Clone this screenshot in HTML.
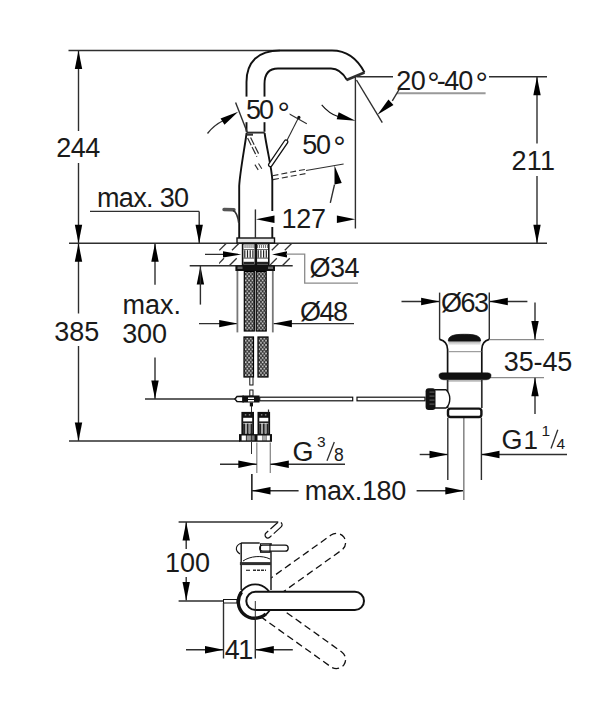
<!DOCTYPE html>
<html><head><meta charset="utf-8"><style>
html,body{margin:0;padding:0;background:#fff;}
svg{display:block;}
text{font-family:"Liberation Sans",sans-serif;stroke:none;}
</style></head><body>
<svg width="604" height="711" viewBox="0 0 604 711">
<rect width="604" height="711" fill="#fff"/>
<line x1="68.5" y1="50.5" x2="280" y2="50.5" stroke="#2e2e2e" stroke-width="1.4" />
<line x1="78.5" y1="50.5" x2="78.5" y2="131" stroke="#2e2e2e" stroke-width="1.4" />
<line x1="78.5" y1="163" x2="78.5" y2="243.2" stroke="#2e2e2e" stroke-width="1.4" />
<polygon points="78.50,50.50 82.20,69.00 74.80,69.00" fill="#000"/>
<polygon points="78.50,243.20 74.80,224.70 82.20,224.70" fill="#000"/>
<text x="56.3" y="156.5" font-size="27" text-anchor="start" fill="#1a1a1a" textLength="44" lengthAdjust="spacing" >244</text>
<line x1="69" y1="243.2" x2="547" y2="243.2" stroke="#2e2e2e" stroke-width="1.4" />
<text x="97" y="206.5" font-size="27" text-anchor="start" fill="#1a1a1a" textLength="92" lengthAdjust="spacing" >max. 30</text>
<line x1="90" y1="211.4" x2="199.2" y2="211.4" stroke="#2e2e2e" stroke-width="1.4" />
<line x1="199.2" y1="211.4" x2="199.2" y2="243.2" stroke="#2e2e2e" stroke-width="1.4" />
<polygon points="199.20,243.20 195.50,224.70 202.90,224.70" fill="#000"/>
<line x1="155" y1="243.2" x2="155" y2="284.7" stroke="#2e2e2e" stroke-width="1.4" />
<polygon points="155.00,243.20 158.70,261.70 151.30,261.70" fill="#000"/>
<line x1="155" y1="357.5" x2="155" y2="399" stroke="#2e2e2e" stroke-width="1.4" />
<polygon points="155.00,399.00 151.30,380.50 158.70,380.50" fill="#000"/>
<text x="122.5" y="313.8" font-size="27" text-anchor="start" fill="#1a1a1a" textLength="58.5" lengthAdjust="spacing" >max.</text>
<text x="122.2" y="342.8" font-size="27" text-anchor="start" fill="#1a1a1a" textLength="44.8" lengthAdjust="spacing" >300</text>
<line x1="78.5" y1="243.2" x2="78.5" y2="313.5" stroke="#2e2e2e" stroke-width="1.4" />
<line x1="78.5" y1="346" x2="78.5" y2="441" stroke="#2e2e2e" stroke-width="1.4" />
<polygon points="78.50,243.20 82.20,261.70 74.80,261.70" fill="#000"/>
<polygon points="78.50,441.00 74.80,422.50 82.20,422.50" fill="#000"/>
<text x="54.3" y="340.8" font-size="27" text-anchor="start" fill="#1a1a1a" textLength="45" lengthAdjust="spacing" >385</text>
<line x1="69" y1="441" x2="240" y2="441" stroke="#2e2e2e" stroke-width="1.4" />
<line x1="145" y1="399" x2="236" y2="399" stroke="#2e2e2e" stroke-width="1.4" />
<line x1="189.7" y1="265.8" x2="292.7" y2="265.8" stroke="#2e2e2e" stroke-width="1.4" />
<polygon points="200.40,266.00 204.10,284.50 196.70,284.50" fill="#000"/>
<line x1="200.4" y1="266" x2="200.4" y2="304.6" stroke="#2e2e2e" stroke-width="1.4" />
<line x1="199" y1="323.6" x2="237.7" y2="323.6" stroke="#2e2e2e" stroke-width="1.4" />
<polygon points="237.70,323.60 219.20,327.30 219.20,319.90" fill="#000"/>
<line x1="273.4" y1="323.6" x2="354" y2="323.6" stroke="#2e2e2e" stroke-width="1.4" />
<polygon points="273.40,323.60 291.90,319.90 291.90,327.30" fill="#000"/>
<text x="300" y="320.5" font-size="27" text-anchor="start" fill="#1a1a1a" textLength="48" lengthAdjust="spacing" >Ø48</text>
<line x1="237.4" y1="271" x2="237.4" y2="332.4" stroke="#777" stroke-width="1.8" />
<line x1="272.8" y1="271" x2="272.8" y2="332.4" stroke="#777" stroke-width="1.8" />
<line x1="205" y1="254.4" x2="238" y2="254.4" stroke="#2e2e2e" stroke-width="1.4" />
<polygon points="241.30,254.40 223.00,257.60 223.00,251.20" fill="#000"/>
<polygon points="272.00,254.40 287.00,251.20 287.00,257.60" fill="#000"/>
<polyline points="286,254.2 304.7,254.2 304.7,283.2 358,283.2" stroke="#8a8a8a" stroke-width="1.3" fill="none" />
<text x="309.5" y="277.3" font-size="27" text-anchor="start" fill="#1a1a1a" textLength="50" lengthAdjust="spacing" >Ø34</text>
<path d="M246.5,131.7 L246.5,82 C246.5,62 258,50.5 280,50.5 L332,50.5 C348,50.5 358,60 364.5,72.5" stroke="#111" stroke-width="1.9" fill="none" />
<path d="M264.5,131.7 L264.5,84 C264.5,74 269,68.5 278,68.5 L331,68.5 C338,68.5 343,73 347,80" stroke="#111" stroke-width="1.9" fill="none" />
<line x1="346.5" y1="80" x2="364.5" y2="72.5" stroke="#2e2e2e" stroke-width="2.6" />
<line x1="246.5" y1="132.6" x2="264.8" y2="132.6" stroke="#2e2e2e" stroke-width="1.9" />
<path d="M246.6,133 C244.6,148 240,172 239.2,186 L239.2,238" stroke="#111" stroke-width="1.9" fill="none" />
<path d="M264.6,133 C267,150 271.8,168 272.3,180 L272.3,238" stroke="#111" stroke-width="1.9" fill="none" />
<rect x="237" y="238" width="37.5" height="5" fill="#e6e6e6" stroke="#111" stroke-width="1.4"/>
<path d="M224,209.5 L234,209.8" stroke="#555" stroke-width="3.4" fill="none" stroke-linecap="round"/>
<path d="M233,210.5 C236.5,212 238,217 238.8,223" stroke="#333" stroke-width="1.7" fill="none" />
<g transform="translate(269.3,166.3) rotate(-55.7)"><rect x="0" y="-1.8" width="31.5" height="3.6" rx="1.8" fill="#fff" stroke="#111" stroke-width="1.3"/></g>
<line x1="286.8" y1="140.8" x2="299" y2="116.8" stroke="#2e2e2e" stroke-width="1.1" />
<line x1="289" y1="113.8" x2="306.8" y2="123.7" stroke="#2e2e2e" stroke-width="1.1" />
<circle cx="298.9" cy="117.4" r="1.6" fill="#111"/>
<line x1="247.6" y1="138" x2="256.9" y2="156.7" stroke="#2e2e2e" stroke-width="1.2" stroke-dasharray="8 2"/>
<line x1="250.6" y1="137.5" x2="259.5" y2="155.5" stroke="#2e2e2e" stroke-width="1.2" stroke-dasharray="8 2"/>
<line x1="254.9" y1="164.6" x2="258.2" y2="169.9" stroke="#2e2e2e" stroke-width="1.1" />
<line x1="258.5" y1="163.5" x2="261.8" y2="168.8" stroke="#2e2e2e" stroke-width="1.1" />
<rect x="246.5" y="133.5" width="6.5" height="2.2" fill="#333" stroke="none" stroke-width="1"/>
<line x1="272.5" y1="175.8" x2="306" y2="169.2" stroke="#2e2e2e" stroke-width="1.1" stroke-dasharray="6 3"/>
<line x1="273" y1="179.6" x2="306.5" y2="173.4" stroke="#2e2e2e" stroke-width="1.1" stroke-dasharray="6 3"/>
<line x1="306" y1="170.5" x2="343.6" y2="164" stroke="#2e2e2e" stroke-width="1.1" />
<line x1="235.6" y1="102.5" x2="247.2" y2="132.3" stroke="#2e2e2e" stroke-width="1.4" />
<path d="M207.5,133.5 Q214,125 223.5,120.5" stroke="#2e2e2e" stroke-width="1.3" fill="none" />
<polygon points="238.20,111.80 224.47,124.74 220.55,118.47" fill="#000"/>
<rect x="244.6" y="96.6" width="45" height="25.6" fill="#fff" stroke="none" stroke-width="1"/>
<text x="246" y="119.3" font-size="27" text-anchor="start" fill="#1a1a1a" textLength="28" lengthAdjust="spacing" >50</text>
<text x="277.5" y="123.8" font-size="31" text-anchor="start" fill="#1a1a1a" >°</text>
<line x1="330.3" y1="202.8" x2="334.5" y2="184.6" stroke="#2e2e2e" stroke-width="1.4" />
<polygon points="334.50,165.60 341.76,183.02 334.50,184.47" fill="#000"/>
<text x="302.3" y="154" font-size="27" text-anchor="start" fill="#1a1a1a" textLength="28.8" lengthAdjust="spacing" >50</text>
<text x="333.3" y="157.8" font-size="31" text-anchor="start" fill="#1a1a1a" >°</text>
<line x1="255.4" y1="209.4" x2="255.4" y2="238" stroke="#2e2e2e" stroke-width="1.4" />
<rect x="270" y="211" width="5" height="16" fill="#fff" stroke="none" stroke-width="1"/>
<line x1="272.3" y1="211" x2="272.3" y2="227" stroke="#2e2e2e" stroke-width="0" />
<polygon points="256.00,219.30 274.50,215.60 274.50,223.00" fill="#000"/>
<polygon points="355.40,219.30 336.90,223.00 336.90,215.60" fill="#000"/>
<text x="281.5" y="227.9" font-size="27" text-anchor="start" fill="#1a1a1a" textLength="44.5" lengthAdjust="spacing" >127</text>
<line x1="355.4" y1="77" x2="355.4" y2="228.5" stroke="#2e2e2e" stroke-width="1.4" />
<path d="M321.7,104.8 C326,110 332,114.5 338,116.5" stroke="#111" stroke-width="1.1" fill="none" />
<polygon points="355.50,120.70 336.69,119.27 338.68,112.15" fill="#000"/>
<line x1="357" y1="76.7" x2="393" y2="76.7" stroke="#2e2e2e" stroke-width="1.4" />
<line x1="489" y1="76.7" x2="547" y2="76.7" stroke="#2e2e2e" stroke-width="1.4" />
<text x="396.2" y="89.6" font-size="27" text-anchor="start" fill="#1a1a1a" textLength="29.7" lengthAdjust="spacing" >20</text>
<text x="427.2" y="94.3" font-size="31" text-anchor="start" fill="#1a1a1a" >°</text>
<text x="436.8" y="89.6" font-size="27" text-anchor="start" fill="#1a1a1a" >-</text>
<text x="444.2" y="89.6" font-size="27" text-anchor="start" fill="#1a1a1a" textLength="29" lengthAdjust="spacing" >40</text>
<text x="475.6" y="94.3" font-size="31" text-anchor="start" fill="#1a1a1a" >°</text>
<line x1="397" y1="93.2" x2="485.6" y2="93.2" stroke="#999" stroke-width="2" />
<line x1="356.5" y1="80" x2="382.3" y2="122.7" stroke="#2e2e2e" stroke-width="1.4" />
<line x1="400" y1="88" x2="392.3" y2="100.9" stroke="#2e2e2e" stroke-width="1.4" />
<polygon points="377.40,114.80 388.43,99.49 393.47,104.91" fill="#000"/>
<line x1="537" y1="76.7" x2="537" y2="143.5" stroke="#2e2e2e" stroke-width="1.4" />
<line x1="537" y1="176" x2="537" y2="243.2" stroke="#2e2e2e" stroke-width="1.4" />
<polygon points="537.00,76.70 540.70,95.20 533.30,95.20" fill="#000"/>
<polygon points="537.00,243.20 533.30,224.70 540.70,224.70" fill="#000"/>
<text x="511.6" y="170.2" font-size="27" text-anchor="start" fill="#1a1a1a" textLength="43.5" lengthAdjust="spacing" >211</text>
<defs><pattern id="hatch" patternUnits="userSpaceOnUse" width="9" height="23" patternTransform="translate(0,242.4)"><line x1="0" y1="23" x2="9" y2="11.5" stroke="#222" stroke-width="1.1" stroke-dasharray="6 3"/><line x1="9" y1="11.5" x2="18" y2="0" stroke="#222" stroke-width="1.1"/></pattern><pattern id="braid" patternUnits="userSpaceOnUse" width="3.4" height="4.3"><rect width="3.4" height="4.3" fill="#333"/><circle cx="0.85" cy="1" r="0.95" fill="#ccc"/><circle cx="2.55" cy="3.15" r="0.95" fill="#bbb"/></pattern></defs>
<clipPath id="c219"><rect x="219" y="243" width="23.19999999999999" height="23.5"/></clipPath>
<g clip-path="url(#c219)"><line x1="203.8" y1="265.8" x2="211.3" y2="258.3" stroke="#333" stroke-width="1.3"/><line x1="219.3" y1="250.3" x2="226.1" y2="243.5" stroke="#333" stroke-width="1.3"/><line x1="216.5" y1="265.8" x2="224.0" y2="258.3" stroke="#333" stroke-width="1.3"/><line x1="232.0" y1="250.3" x2="238.8" y2="243.5" stroke="#333" stroke-width="1.3"/><line x1="229.2" y1="265.8" x2="236.7" y2="258.3" stroke="#333" stroke-width="1.3"/><line x1="244.7" y1="250.3" x2="251.5" y2="243.5" stroke="#333" stroke-width="1.3"/></g>
<clipPath id="c269"><rect x="269.6" y="243" width="23.399999999999977" height="23.5"/></clipPath>
<g clip-path="url(#c269)"><line x1="256.3" y1="265.8" x2="263.8" y2="258.3" stroke="#333" stroke-width="1.3"/><line x1="271.8" y1="250.3" x2="278.6" y2="243.5" stroke="#333" stroke-width="1.3"/><line x1="269.3" y1="265.8" x2="276.8" y2="258.3" stroke="#333" stroke-width="1.3"/><line x1="284.8" y1="250.3" x2="291.6" y2="243.5" stroke="#333" stroke-width="1.3"/><line x1="282.3" y1="265.8" x2="289.8" y2="258.3" stroke="#333" stroke-width="1.3"/><line x1="297.8" y1="250.3" x2="304.6" y2="243.5" stroke="#333" stroke-width="1.3"/></g>
<rect x="242.6" y="243.6" width="26.2" height="21.6" fill="#fff" stroke="#111" stroke-width="1.6"/>
<rect x="244.5" y="245" width="1.1" height="3" fill="#777" stroke="none" stroke-width="1"/>
<rect x="246.5" y="245" width="1.1" height="3" fill="#777" stroke="none" stroke-width="1"/>
<rect x="248.5" y="245" width="1.1" height="3" fill="#777" stroke="none" stroke-width="1"/>
<rect x="250.5" y="245" width="1.1" height="3" fill="#777" stroke="none" stroke-width="1"/>
<rect x="252.5" y="245" width="1.1" height="3" fill="#777" stroke="none" stroke-width="1"/>
<rect x="254.5" y="245" width="1.1" height="3" fill="#777" stroke="none" stroke-width="1"/>
<rect x="257" y="245" width="1.1" height="3" fill="#777" stroke="none" stroke-width="1"/>
<rect x="259" y="245" width="1.1" height="3" fill="#777" stroke="none" stroke-width="1"/>
<rect x="261" y="245" width="1.1" height="3" fill="#777" stroke="none" stroke-width="1"/>
<rect x="263" y="245" width="1.1" height="3" fill="#777" stroke="none" stroke-width="1"/>
<rect x="265" y="245" width="1.1" height="3" fill="#777" stroke="none" stroke-width="1"/>
<rect x="267" y="245" width="1.1" height="3" fill="#777" stroke="none" stroke-width="1"/>
<rect x="254.5" y="244" width="2.6" height="21" fill="#111" stroke="none" stroke-width="1"/>
<rect x="243.4" y="249.2" width="11" height="0.8" fill="#444" stroke="none" stroke-width="1"/>
<rect x="257" y="249.2" width="11" height="0.8" fill="#444" stroke="none" stroke-width="1"/>
<rect x="244.2" y="250.2" width="1.2" height="7.5" fill="#222" stroke="none" stroke-width="1"/>
<rect x="246.9" y="250.2" width="1.2" height="7.5" fill="#222" stroke="none" stroke-width="1"/>
<rect x="249.6" y="250.2" width="1.2" height="7.5" fill="#222" stroke="none" stroke-width="1"/>
<rect x="252.3" y="250.2" width="1.2" height="7.5" fill="#222" stroke="none" stroke-width="1"/>
<rect x="257.6" y="250.2" width="1.2" height="7.5" fill="#222" stroke="none" stroke-width="1"/>
<rect x="260.3" y="250.2" width="1.2" height="7.5" fill="#222" stroke="none" stroke-width="1"/>
<rect x="263" y="250.2" width="1.2" height="7.5" fill="#222" stroke="none" stroke-width="1"/>
<rect x="265.7" y="250.2" width="1.2" height="7.5" fill="#222" stroke="none" stroke-width="1"/>
<rect x="243.4" y="257.7" width="11" height="0.8" fill="#222" stroke="none" stroke-width="1"/>
<rect x="257" y="257.7" width="11" height="0.8" fill="#222" stroke="none" stroke-width="1"/>
<rect x="243.4" y="261.8" width="11" height="2.5" fill="#222" stroke="none" stroke-width="1"/>
<rect x="257" y="261.8" width="11" height="2.5" fill="#222" stroke="none" stroke-width="1"/>
<rect x="235.4" y="265.4" width="39.6" height="5.6" fill="#111" stroke="none" stroke-width="1"/>
<rect x="237.5" y="266.6" width="5" height="2.4" fill="#666" stroke="none" stroke-width="1"/>
<rect x="268" y="266.6" width="5" height="2.4" fill="#666" stroke="none" stroke-width="1"/>
<rect x="244.3" y="271.4" width="10" height="59.6" fill="url(#braid)" stroke="#000" stroke-width="1.2"/>
<rect x="256.2" y="271.4" width="10" height="59.6" fill="url(#braid)" stroke="#000" stroke-width="1.2"/>
<rect x="244" y="337" width="9.5" height="40" fill="url(#braid)" stroke="#000" stroke-width="1.2"/>
<rect x="258" y="337" width="10" height="40" fill="url(#braid)" stroke="#000" stroke-width="1.2"/>
<rect x="249.8" y="377" width="3.2" height="8" fill="#fff" stroke="#111" stroke-width="1"/>
<rect x="249.8" y="390" width="3.2" height="6" fill="#fff" stroke="#111" stroke-width="1"/>
<path d="M235,399 L237,396.6 L243,396.2 L243,401.8 L237,401.4 Z" fill="#fff" stroke="#111" stroke-width="1.5"/>
<rect x="242.5" y="395.5" width="17" height="7" fill="#111" stroke="none" stroke-width="1"/>
<rect x="248" y="397.5" width="6" height="1.5" fill="#fff" stroke="none" stroke-width="1"/>
<rect x="248" y="400" width="6" height="1.5" fill="#fff" stroke="none" stroke-width="1"/>
<rect x="249.8" y="402.4" width="3.2" height="4" fill="#111" stroke="none" stroke-width="1"/>
<rect x="259.7" y="397.2" width="93" height="3.6" fill="#fff" stroke="#111" stroke-width="1.2"/>
<rect x="357" y="397.2" width="68" height="3.6" fill="#fff" stroke="#111" stroke-width="1.2"/>
<rect x="242.3" y="412.8" width="10.8" height="21.5" fill="#fff" stroke="#111" stroke-width="1.8"/>
<rect x="242.3" y="412.6" width="10.8" height="5.2" fill="#111" stroke="none" stroke-width="1"/>
<rect x="244.8" y="414" width="1.5" height="1.6" fill="#777" stroke="none" stroke-width="1"/>
<rect x="248.8" y="414" width="1.5" height="1.6" fill="#777" stroke="none" stroke-width="1"/>
<rect x="243.8" y="418.4" width="7.8" height="2.8" fill="#fff" stroke="none" stroke-width="1"/>
<rect x="242.3" y="421.4" width="10.8" height="1.6" fill="#222" stroke="none" stroke-width="1"/>
<rect x="243.10000000000002" y="423.5" width="2" height="10.5" fill="#222" stroke="none" stroke-width="1"/>
<rect x="246.70000000000002" y="423.5" width="2" height="10.5" fill="#222" stroke="none" stroke-width="1"/>
<rect x="250.3" y="423.5" width="2" height="10.5" fill="#222" stroke="none" stroke-width="1"/>
<rect x="245.10000000000002" y="423.5" width="1.6" height="10.5" fill="#999" stroke="none" stroke-width="1"/>
<rect x="248.70000000000002" y="423.5" width="1.6" height="10.5" fill="#999" stroke="none" stroke-width="1"/>
<rect x="258.4" y="412.8" width="10.8" height="21.5" fill="#fff" stroke="#111" stroke-width="1.8"/>
<rect x="258.4" y="412.6" width="10.8" height="5.2" fill="#111" stroke="none" stroke-width="1"/>
<rect x="260.9" y="414" width="1.5" height="1.6" fill="#777" stroke="none" stroke-width="1"/>
<rect x="264.9" y="414" width="1.5" height="1.6" fill="#777" stroke="none" stroke-width="1"/>
<rect x="259.9" y="418.4" width="7.8" height="2.8" fill="#fff" stroke="none" stroke-width="1"/>
<rect x="258.4" y="421.4" width="10.8" height="1.6" fill="#222" stroke="none" stroke-width="1"/>
<rect x="259.2" y="423.5" width="2" height="10.5" fill="#222" stroke="none" stroke-width="1"/>
<rect x="262.79999999999995" y="423.5" width="2" height="10.5" fill="#222" stroke="none" stroke-width="1"/>
<rect x="266.4" y="423.5" width="2" height="10.5" fill="#222" stroke="none" stroke-width="1"/>
<rect x="261.2" y="423.5" width="1.6" height="10.5" fill="#999" stroke="none" stroke-width="1"/>
<rect x="264.79999999999995" y="423.5" width="1.6" height="10.5" fill="#999" stroke="none" stroke-width="1"/>
<line x1="268.5" y1="412.5" x2="268.5" y2="409.5" stroke="#2e2e2e" stroke-width="1.2" />
<rect x="239" y="434.1" width="33" height="7.7" fill="#111" stroke="none" stroke-width="1"/>
<rect x="241.6" y="435.5" width="4.3" height="4.9" fill="#fff" stroke="none" stroke-width="1"/>
<rect x="246.6" y="435.5" width="4.3" height="4.9" fill="#999" stroke="none" stroke-width="1"/>
<rect x="251.6" y="435.5" width="3" height="4.9" fill="#777" stroke="none" stroke-width="1"/>
<rect x="257.5" y="435.5" width="4.6" height="4.9" fill="#fff" stroke="none" stroke-width="1"/>
<rect x="262.2" y="435.5" width="4.6" height="4.9" fill="#aaa" stroke="none" stroke-width="1"/>
<rect x="266.9" y="435.5" width="3" height="4.9" fill="#fff" stroke="none" stroke-width="1"/>
<line x1="251.5" y1="406" x2="251.5" y2="412" stroke="#2e2e2e" stroke-width="1" />
<line x1="251.5" y1="442" x2="251.5" y2="454" stroke="#2e2e2e" stroke-width="1" />
<line x1="251.5" y1="474" x2="251.5" y2="500" stroke="#2e2e2e" stroke-width="1" />
<line x1="256.8" y1="442.5" x2="256.8" y2="473" stroke="#8a8a8a" stroke-width="1.3" />
<line x1="270.3" y1="442.5" x2="270.3" y2="473" stroke="#8a8a8a" stroke-width="1.3" />
<line x1="220" y1="464.2" x2="256.8" y2="464.2" stroke="#2e2e2e" stroke-width="1.4" />
<polygon points="256.80,464.20 238.30,467.90 238.30,460.50" fill="#000"/>
<line x1="270.3" y1="464.2" x2="345" y2="464.2" stroke="#2e2e2e" stroke-width="1.4" />
<polygon points="270.30,464.20 288.80,460.50 288.80,467.90" fill="#000"/>
<text x="292.5" y="461.4" font-size="27" text-anchor="start" fill="#1a1a1a" >G</text>
<text x="317" y="446.9" font-size="15.5" text-anchor="start" fill="#1a1a1a" >3</text>
<line x1="327" y1="460.8" x2="334.3" y2="442" stroke="#2e2e2e" stroke-width="1.3" />
<text x="334" y="461.4" font-size="17.5" text-anchor="start" fill="#1a1a1a" >8</text>
<line x1="252" y1="474" x2="252" y2="500" stroke="#2e2e2e" stroke-width="1.4" />
<line x1="252" y1="490.7" x2="298.6" y2="490.7" stroke="#2e2e2e" stroke-width="1.4" />
<polygon points="252.00,490.70 270.50,487.00 270.50,494.40" fill="#000"/>
<text x="304.8" y="500" font-size="27" text-anchor="start" fill="#1a1a1a" textLength="101.5" lengthAdjust="spacing" >max.180</text>
<line x1="416.6" y1="490.7" x2="463.8" y2="490.7" stroke="#2e2e2e" stroke-width="1.4" />
<polygon points="463.80,490.70 445.30,494.40 445.30,487.00" fill="#000"/>
<line x1="463.8" y1="417.7" x2="463.8" y2="500" stroke="#8a8a8a" stroke-width="1.6" />
<line x1="401.5" y1="301.5" x2="439.6" y2="301.5" stroke="#2e2e2e" stroke-width="1.4" />
<polygon points="439.60,301.50 421.10,305.20 421.10,297.80" fill="#000"/>
<line x1="489.3" y1="301.5" x2="527.4" y2="301.5" stroke="#2e2e2e" stroke-width="1.4" />
<polygon points="489.30,301.50 507.80,297.80 507.80,305.20" fill="#000"/>
<line x1="439.6" y1="292.6" x2="439.6" y2="339.6" stroke="#2e2e2e" stroke-width="1.4" />
<line x1="489.3" y1="292.6" x2="489.3" y2="339.6" stroke="#2e2e2e" stroke-width="1.4" />
<rect x="441" y="292" width="47" height="21" fill="#fff" stroke="none" stroke-width="1"/>
<text x="441" y="311.6" font-size="27" text-anchor="start" fill="#1a1a1a" textLength="48" lengthAdjust="spacing" >Ø63</text>
<line x1="490" y1="339.6" x2="544" y2="339.6" stroke="#8a8a8a" stroke-width="1.2" />
<line x1="486" y1="377.7" x2="544" y2="377.7" stroke="#8a8a8a" stroke-width="1.2" />
<line x1="535" y1="302.5" x2="535" y2="339.6" stroke="#2e2e2e" stroke-width="1.4" />
<polygon points="535.00,339.60 531.30,321.10 538.70,321.10" fill="#000"/>
<line x1="535" y1="377.7" x2="535" y2="414" stroke="#2e2e2e" stroke-width="1.4" />
<polygon points="535.00,377.70 538.70,396.20 531.30,396.20" fill="#000"/>
<text x="503.8" y="371" font-size="27" text-anchor="start" fill="#1a1a1a" textLength="68.5" lengthAdjust="spacing" >35-45</text>
<path d="M439.6,339.4 C444,340.5 447.6,343 447.6,349.5 L447.6,373.5" stroke="#111" stroke-width="1.7" fill="none" />
<path d="M489.3,339.4 C485,340.5 481.8,343 481.8,349.5 L481.8,373.5" stroke="#111" stroke-width="1.7" fill="none" />
<defs><linearGradient id="capg" x1="0" y1="0" x2="0" y2="1"><stop offset="0" stop-color="#999"/><stop offset="1" stop-color="#fff"/></linearGradient></defs>
<rect x="448.5" y="340.5" width="32" height="5" fill="url(#capg)" stroke="none" stroke-width="1"/>
<path d="M448.3,341 C448.3,336 453,334.3 464.4,334.3 C476,334.3 480.6,336 480.6,341 Z" stroke="#111" stroke-width="0.8" fill="#111" />
<line x1="448" y1="351.7" x2="481.5" y2="351.7" stroke="#888" stroke-width="1" />
<path d="M439,375.5 C439,373 441,372.8 445,372.8 L485,372.8 C489,372.8 491,373 491,375.5 C491,378.5 489,379.8 485,379.8 L445,379.8 C441,379.8 439,378.5 439,375.5 Z" stroke="#111" stroke-width="0.5" fill="#111" />
<line x1="448" y1="381" x2="481.5" y2="381" stroke="#999" stroke-width="1" />
<line x1="447.6" y1="379.8" x2="447.6" y2="408" stroke="#2e2e2e" stroke-width="1.7" />
<line x1="481.8" y1="379.8" x2="481.8" y2="408" stroke="#2e2e2e" stroke-width="1.7" />
<rect x="448" y="408.6" width="33.4" height="8.4" rx="2.5" fill="#fff" stroke="#111" stroke-width="2.4"/>
<path d="M435,389.8 L446,389.8 C448.5,392 449.8,395 449.8,398.8 C449.8,403 448.5,406 446,408 L435,408" stroke="#111" stroke-width="1.4" fill="#fff" />
<rect x="425.6" y="388.3" width="9.9" height="21.8" rx="3" fill="#111"/>
<rect x="429.5" y="391.5" width="5" height="1.2" fill="#555" stroke="none" stroke-width="1"/>
<rect x="429.5" y="395.5" width="5" height="1.2" fill="#555" stroke="none" stroke-width="1"/>
<rect x="429.5" y="399.5" width="5" height="1.2" fill="#555" stroke="none" stroke-width="1"/>
<rect x="429.5" y="403.5" width="5" height="1.2" fill="#555" stroke="none" stroke-width="1"/>
<line x1="447.8" y1="417.7" x2="447.8" y2="480" stroke="#2e2e2e" stroke-width="1.4" />
<line x1="481.4" y1="417.7" x2="481.4" y2="480" stroke="#2e2e2e" stroke-width="1.4" />
<line x1="419.7" y1="454.5" x2="448" y2="454.5" stroke="#2e2e2e" stroke-width="1.4" />
<polygon points="448.00,454.50 429.50,458.20 429.50,450.80" fill="#000"/>
<line x1="481" y1="454.5" x2="567" y2="454.5" stroke="#2e2e2e" stroke-width="1.4" />
<polygon points="481.00,454.50 499.50,450.80 499.50,458.20" fill="#000"/>
<text x="501.5" y="449.3" font-size="27" text-anchor="start" fill="#1a1a1a" >G</text>
<text x="523.5" y="449.3" font-size="26" text-anchor="start" fill="#1a1a1a" >1</text>
<text x="541.5" y="436.3" font-size="15.5" text-anchor="start" fill="#1a1a1a" >1</text>
<line x1="551" y1="448.5" x2="557.8" y2="429.8" stroke="#2e2e2e" stroke-width="1.3" />
<text x="556.5" y="448.8" font-size="15.5" text-anchor="start" fill="#1a1a1a" >4</text>
<line x1="178.6" y1="522" x2="278.3" y2="522" stroke="#2e2e2e" stroke-width="1.4" />
<line x1="186.2" y1="522" x2="186.2" y2="549" stroke="#2e2e2e" stroke-width="1.4" />
<line x1="186.2" y1="577" x2="186.2" y2="600.6" stroke="#2e2e2e" stroke-width="1.4" />
<polygon points="186.20,522.00 189.90,540.50 182.50,540.50" fill="#000"/>
<polygon points="186.20,600.60 182.50,582.10 189.90,582.10" fill="#000"/>
<text x="165" y="572" font-size="27" text-anchor="start" fill="#1a1a1a" textLength="45" lengthAdjust="spacing" >100</text>
<line x1="178.6" y1="601" x2="237" y2="601" stroke="#2e2e2e" stroke-width="1.4" />
<rect x="223.5" y="599.5" width="13.5" height="3.5" fill="#fff" stroke="#111" stroke-width="1"/>
<line x1="223.5" y1="603" x2="223.5" y2="658.5" stroke="#2e2e2e" stroke-width="1.4" />
<line x1="255.3" y1="601" x2="255.3" y2="658.5" stroke="#2e2e2e" stroke-width="1.4" />
<line x1="186" y1="649.8" x2="223.5" y2="649.8" stroke="#2e2e2e" stroke-width="1.4" />
<polygon points="223.50,649.80 205.00,653.50 205.00,646.10" fill="#000"/>
<line x1="255.3" y1="649.8" x2="292.8" y2="649.8" stroke="#2e2e2e" stroke-width="1.4" />
<polygon points="255.30,649.80 273.80,646.10 273.80,653.50" fill="#000"/>
<text x="224.7" y="659.3" font-size="27" text-anchor="start" fill="#1a1a1a" textLength="28.5" lengthAdjust="spacing" >41</text>
<g transform="translate(254.5,601) rotate(-35.5)"><rect x="-9.2" y="-9.2" width="119" height="18.4" rx="9.2" fill="none" stroke="#111" stroke-width="1.3" stroke-dasharray="7 4"/></g>
<g transform="translate(254.5,601) rotate(35.5)"><rect x="-9.2" y="-9.2" width="119" height="18.4" rx="9.2" fill="none" stroke="#111" stroke-width="1.3" stroke-dasharray="7 4"/></g>
<g transform="translate(279.3,524.8) rotate(138)"><rect x="-2.8" y="-2.8" width="21" height="5.6" rx="2.8" fill="none" stroke="#111" stroke-width="1.2" stroke-dasharray="10 3 14 3"/></g>
<rect x="241.2" y="543" width="29.8" height="47" fill="#fff" stroke="none" stroke-width="1"/>
<line x1="241.2" y1="543" x2="241.2" y2="590" stroke="#2e2e2e" stroke-width="1.6" />
<line x1="271" y1="543" x2="271" y2="590" stroke="#2e2e2e" stroke-width="1.6" />
<path d="M241.5,543 C236,545 234,550 240,554" stroke="#111" stroke-width="1.1" fill="none" />
<path d="M241.2,543 L259.7,543" stroke="#111" stroke-width="1.4" fill="none" />
<line x1="239.9" y1="563.6" x2="271" y2="563.6" stroke="#2e2e2e" stroke-width="3" />
<path d="M243,561 C250,556 262,555 270,559" stroke="#111" stroke-width="1" fill="none" />
<line x1="246" y1="570.3" x2="250" y2="570.3" stroke="#2e2e2e" stroke-width="1.2" />
<line x1="253" y1="570.3" x2="266" y2="570.3" stroke="#2e2e2e" stroke-width="1.6" stroke-dasharray="3 1"/>
<rect x="259.7" y="545.2" width="28.5" height="6" rx="3" fill="#fff" stroke="#111" stroke-width="1.3"/>
<rect x="260.5" y="543.8" width="9.5" height="8.5" fill="none" stroke="#111" stroke-width="1.1"/>
<circle cx="255.2" cy="601.4" r="17" fill="#fff" stroke="#111" stroke-width="1.8"/>
<path d="M241.6,591.9 A16.5,16.5 0 0 0 265.8,614.1" fill="none" stroke="#111" stroke-width="3.4"/>
<rect x="246.3" y="591.8" width="117.7" height="18.2" rx="9.1" fill="#fff" stroke="#111" stroke-width="2"/>
<line x1="255.3" y1="601" x2="255.3" y2="620" stroke="#2e2e2e" stroke-width="1" />
</svg></body></html>
